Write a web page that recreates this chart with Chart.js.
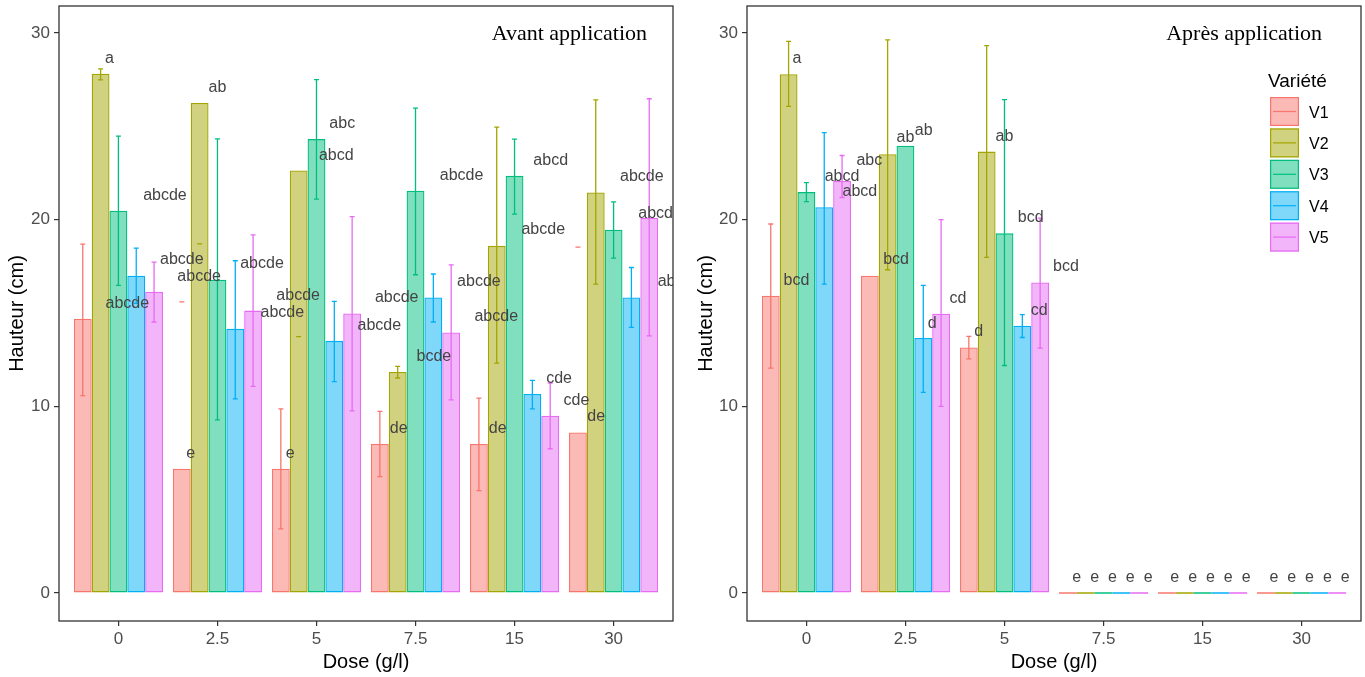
<!DOCTYPE html>
<html>
<head>
<meta charset="utf-8">
<script src="https://cdn.jsdelivr.net/npm/chart.js@4.4.1/dist/chart.umd.min.js"></script>
<style>
  body { margin: 0; background: #fff; }
  #wrap { position: relative; width: 1365px; height: 677px; }
  canvas { position: absolute; top: 0; }
  #avant { left: 0; }
  #apres { left: 685px; }
</style>
</head>
<body>
<div id="wrap">
  <canvas id="avant" width="685" height="677"></canvas>
  <canvas id="apres" width="680" height="677"></canvas>
</div>
<script>
const doses = ["0", "2.5", "5", "7.5", "15", "30"];
const varieties = ["V1", "V2", "V3", "V4", "V5"];
const colors = ["#F8766D", "#A3A500", "#00BF7D", "#00B0F6", "#E76BF3"];
const yTicks = [0, 10, 20, 30];

// Avant application : hauteur moyenne (cm), une ligne par variété
const avantHeights = [
  [14.7, 6.66, 6.66, 7.98, 7.98, 8.6],
  [27.82, 26.25, 22.64, 11.84, 18.6, 21.46],
  [20.48, 16.78, 24.32, 21.55, 22.35, 19.46],
  [17.0, 14.16, 13.51, 15.83, 10.66, 15.83],
  [16.14, 15.13, 14.98, 13.96, 9.5, 20.09]
];
const avantErrLow = [
  [10.58, 15.6, 3.44, 6.23, 5.48, 18.53],
  [27.49, 18.7, 13.74, 11.52, 12.32, 16.55],
  [16.48, 9.28, 21.1, 17.05, 20.3, 17.94],
  [15.52, 10.4, 11.33, 14.52, 9.86, 14.23],
  [14.52, 11.07, 9.76, 10.35, 7.73, 13.78]
];
const avantErrHigh = [
  [18.69, 15.6, 9.87, 9.73, 10.44, 18.53],
  [28.08, 18.7, 13.74, 12.14, 24.96, 26.42],
  [24.48, 24.33, 27.51, 25.98, 24.32, 20.96],
  [18.48, 17.8, 15.62, 17.09, 11.39, 17.44],
  [17.73, 19.19, 20.17, 17.58, 11.25, 26.48]
];
// lettres de groupes : [texte, dose (rang), hauteur]
const avantLabels = [
  ["a", -0.09, 28.62], ["ab", 1.0, 27.07], ["abc", 2.26, 25.14], ["abcd", 2.2, 23.43],
  ["abcde", 0.47, 21.29], ["abcde", 0.64, 17.85], ["abcde", 0.815, 16.94], ["abcde", 1.45, 17.64],
  ["abcde", 0.09, 15.5], ["abcde", 1.815, 15.92], ["abcde", 1.655, 15.01], ["abcde", 3.465, 22.36],
  ["abcd", 4.365, 23.16], ["abcde", 5.285, 22.3], ["abcd", 5.425, 20.32], ["abcde", 4.29, 19.46],
  ["abcde", 3.64, 16.67], ["abcde", 2.81, 15.82], ["abcde", 2.635, 14.32], ["abcde", 3.815, 14.8],
  ["abcde", 5.665, 16.67], ["bcde", 3.185, 12.66], ["de", 2.83, 8.8], ["de", 3.83, 8.8],
  ["cde", 4.45, 11.48], ["cde", 4.625, 10.3], ["de", 4.825, 9.44], ["e", 0.73, 7.46], ["e", 1.735, 7.46]
];

// Après application
const apresHeights = [
  [15.93, 17.0, 13.16, 0, 0, 0],
  [27.8, 23.51, 23.65, 0, 0, 0],
  [21.48, 23.96, 19.27, 0, 0, 0],
  [20.67, 13.66, 14.32, 0, 0, 0],
  [22.08, 14.96, 16.64, 0, 0, 0]
];
const apresErrLow = [
  [12.05, null, 12.54, null, null, null],
  [26.07, 17.32, 17.98, null, null, null],
  [20.97, null, 12.19, null, null, null],
  [16.55, 10.75, 13.69, null, null, null],
  [21.19, 10.0, 13.12, null, null, null]
];
const apresErrHigh = [
  [19.77, null, 13.75, null, null, null],
  [29.55, 29.64, 29.33, null, null, null],
  [21.99, null, 26.43, null, null, null],
  [24.67, 16.48, 14.91, null, null, null],
  [23.44, 20.0, 20.09, null, null, null]
];
const apresLabels = [
  ["a", -0.095, 28.62], ["bcd", -0.1, 16.73], ["abcd", 0.36, 22.31], ["abcd", 0.54, 21.48],
  ["abc", 0.635, 23.15], ["ab", 1.0, 24.4], ["ab", 1.185, 24.76], ["bcd", 0.905, 17.85],
  ["cd", 1.53, 15.76], ["d", 1.27, 14.46], ["ab", 2.0, 24.46], ["bcd", 2.265, 20.09],
  ["bcd", 2.62, 17.48], ["cd", 2.35, 15.12], ["d", 1.74, 13.98],
  ["e", 2.73, 0.8], ["e", 2.91, 0.8], ["e", 3.09, 0.8], ["e", 3.27, 0.8], ["e", 3.45, 0.8],
  ["e", 3.72, 0.8], ["e", 3.9, 0.8], ["e", 4.08, 0.8], ["e", 4.26, 0.8], ["e", 4.44, 0.8],
  ["e", 4.72, 0.8], ["e", 4.9, 0.8], ["e", 5.08, 0.8], ["e", 5.26, 0.8], ["e", 5.44, 0.8]
];

const SANS = "'Liberation Sans', Arial, sans-serif";
Chart.defaults.font.family = SANS;

function alpha(hex, a) {
  const n = parseInt(hex.slice(1), 16);
  return `rgba(${n >> 16}, ${(n >> 8) & 255}, ${n & 255}, ${a})`;
}

// barres d'erreur, barres nulles, lettres, cadre, titre
const extras = {
  id: "extras",
  afterDatasetsDraw(chart, args, opts) {
    const ctx = chart.ctx;
    const { x, y } = chart.scales;
    const area = chart.chartArea;
    ctx.save();
    chart.data.datasets.forEach((ds, i) => {
      const meta = chart.getDatasetMeta(i);
      meta.data.forEach((bar, j) => {
        ctx.strokeStyle = ds.borderColor;
        if (ds.data[j].y === 0) {
          const y0 = y.getPixelForValue(0);
          ctx.lineWidth = 1.5;
          ctx.beginPath();
          ctx.moveTo(bar.x - bar.width / 2, y0);
          ctx.lineTo(bar.x + bar.width / 2, y0);
          ctx.stroke();
        }
        const lo = ds.errLow[j], hi = ds.errHigh[j];
        if (lo == null) return;
        const yl = y.getPixelForValue(lo), yh = y.getPixelForValue(hi);
        ctx.lineWidth = 1.3;
        ctx.beginPath();
        ctx.moveTo(bar.x, yl); ctx.lineTo(bar.x, yh);
        ctx.moveTo(bar.x - 2.5, yl); ctx.lineTo(bar.x + 2.5, yl);
        ctx.moveTo(bar.x - 2.5, yh); ctx.lineTo(bar.x + 2.5, yh);
        ctx.stroke();
      });
    });
    ctx.beginPath();
    ctx.rect(area.left, area.top, area.right - area.left, area.bottom - area.top);
    ctx.clip();
    ctx.fillStyle = "#444";
    ctx.font = "16px " + SANS;
    ctx.textAlign = "center";
    ctx.textBaseline = "middle";
    opts.labels.forEach(([t, lx, ly]) => {
      ctx.fillText(t, x.getPixelForValue(lx), y.getPixelForValue(ly));
    });
    ctx.restore();
  },
  afterDraw(chart, args, opts) {
    const ctx = chart.ctx;
    const area = chart.chartArea;
    ctx.save();
    ctx.strokeStyle = "#333";
    ctx.lineWidth = 1.3;
    ctx.strokeRect(area.left, area.top, area.right - area.left, area.bottom - area.top);
    ctx.fillStyle = "#000";
    ctx.font = "22px 'Liberation Serif', 'Times New Roman', serif";
    ctx.textAlign = "right";
    ctx.textBaseline = "alphabetic";
    ctx.fillText(opts.title, opts.titleX, 40);
    if (opts.legend) {
      const lx = opts.legendX;
      ctx.textAlign = "left";
      ctx.font = "19px " + SANS;
      ctx.fillText("Variété", lx - 2, 87);
      ctx.font = "16px " + SANS;
      chart.data.datasets.forEach((ds, i) => {
        const top = 97 + i * 31.4;
        ctx.fillStyle = "#fff";
        ctx.fillRect(lx, top, 29, 29);
        ctx.fillStyle = ds.backgroundColor;
        ctx.fillRect(lx, top, 29, 29);
        ctx.strokeStyle = ds.borderColor;
        ctx.lineWidth = 1.2;
        ctx.strokeRect(lx + 0.6, top + 0.6, 27.8, 27.8);
        ctx.beginPath();
        ctx.moveTo(lx + 3, top + 14.5);
        ctx.lineTo(lx + 26, top + 14.5);
        ctx.stroke();
        ctx.fillStyle = "#000";
        ctx.fillText(ds.label, lx + 39, top + 20.5);
      });
    }
    ctx.restore();
  }
};

function makePanel(id, heights, errLow, errHigh, labels, cfg) {
  const datasets = varieties.map((v, i) => ({
    label: v,
    data: heights[i].map((h, j) => ({ x: j, y: h })),
    errLow: errLow[i],
    errHigh: errHigh[i],
    backgroundColor: alpha(colors[i], 0.5),
    borderColor: colors[i],
    borderWidth: 1.3,
    borderSkipped: false,
    categoryPercentage: 0.9,
    barPercentage: 1.0
  }));

  new Chart(document.getElementById(id), {
    type: "bar",
    data: { datasets },
    plugins: [extras],
    options: {
      responsive: false,
      animation: false,
      devicePixelRatio: 1,
      layout: { padding: { left: 0, right: cfg.padRight, top: 6, bottom: 0 } },
      plugins: {
        legend: { display: false },
        tooltip: { enabled: false },
        extras: { labels, title: cfg.title, titleX: cfg.titleX, legend: cfg.legend, legendX: cfg.legendX }
      },
      scales: {
        x: {
          type: "linear",
          min: -0.6,
          max: 5.6,
          offset: false,
          afterBuildTicks: s => { s.ticks = doses.map((d, i) => ({ value: i })); },
          afterFit: s => { s.height = 56; s.paddingLeft = 0; s.paddingRight = 0; },
          ticks: { callback: v => doses[v], color: "#4d4d4d", font: { size: 17 }, padding: 3, maxRotation: 0, autoSkip: false },
          grid: { offset: false, drawOnChartArea: false, drawTicks: true, tickLength: 5, color: "#333", lineWidth: 1.2 },
          border: { display: false },
          title: { display: true, text: "Dose (g/l)", color: "#000", font: { size: 20 }, padding: { top: 0, bottom: 3 } }
        },
        y: {
          min: -1.5,
          max: 31.45,
          afterBuildTicks: s => { s.ticks = yTicks.map(v => ({ value: v })); },
          afterFit: s => { s.width = cfg.yWidth; s.paddingTop = 0; s.paddingBottom = 0; },
          ticks: { color: "#4d4d4d", font: { size: 17 }, padding: 4 },
          grid: { drawOnChartArea: false, drawTicks: true, tickLength: 5, color: "#333", lineWidth: 1.2 },
          border: { display: false },
          title: { display: true, text: "Hauteur (cm)", color: "#000", font: { size: 20 }, padding: { top: cfg.yTitlePad, bottom: 0 } }
        }
      }
    }
  });
}

makePanel("avant", avantHeights, avantErrLow, avantErrHigh, avantLabels,
  { padRight: 12, yWidth: 59, yTitlePad: 5, title: "Avant application", titleX: 647, legend: false });
makePanel("apres", apresHeights, apresErrLow, apresErrHigh, apresLabels,
  { padRight: 4, yWidth: 62, yTitlePad: 9, title: "Après application", titleX: 637, legend: true, legendX: 585 });
</script>
</body>
</html>
